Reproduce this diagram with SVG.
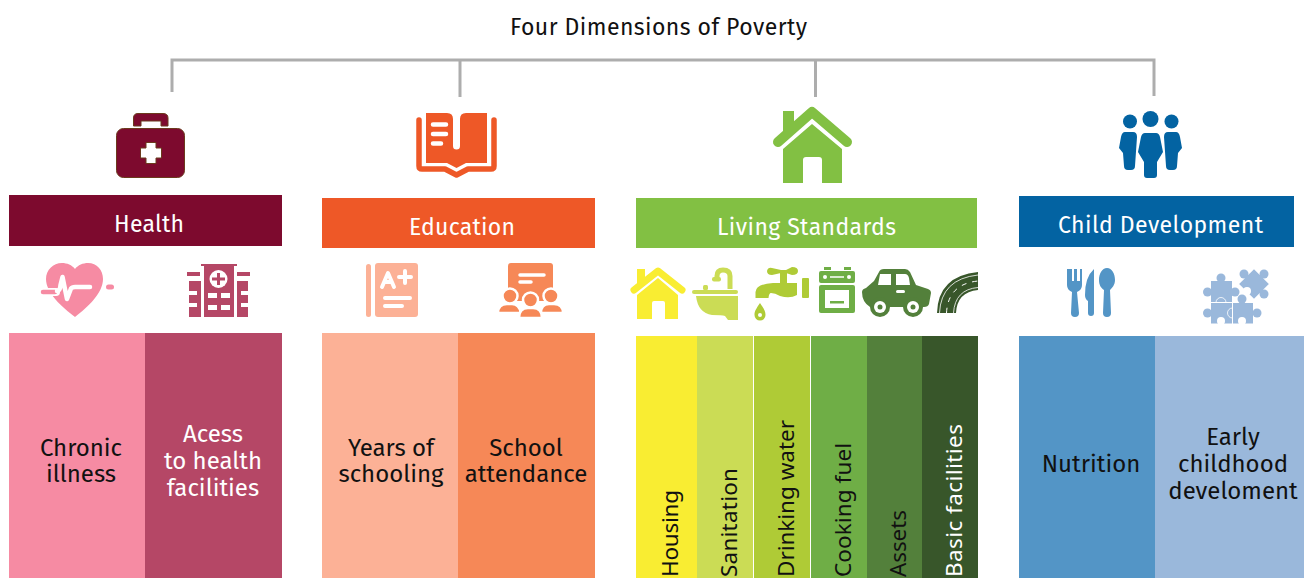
<svg xmlns="http://www.w3.org/2000/svg" width="1308" height="578" viewBox="0 0 1308 578">
<style>
text{font-family:"Fira Sans","Noto Sans","Open Sans",sans-serif;font-size:24px;fill:#111;text-anchor:middle}
.h{fill:#fff}
.g{font-size:23px}
.v{font-family:"Noto Sans","Open Sans",sans-serif;font-size:22.500px;text-anchor:start}
.conn{fill:none;stroke:#adadad;stroke-width:3}
</style>
<rect width="1308" height="578" fill="#fff"/>
<g id="connectors" class="conn">
<path d="M172 92V60H1154V96"/><path d="M460 60V97"/><path d="M815.500 60V97"/>
</g>
<g id="title"><text class="g" x="658.500" y="35" textLength="297">Four Dimensions of Poverty</text></g>

<g id="health">
<path d="M133.500 126V118Q133.500 113.500 138 113.500H163Q168 113.500 168 118V126H161V121H141V126Z" fill="#7d0a2e" stroke="#6b3a1c"/>
<rect x="116.500" y="128.500" width="68" height="49" rx="7" fill="#7d0a2e" stroke="#6b3a1c"/>
<path d="M146 142.500H156V148H161.500V158H156V163.500H146V158H140.500V148H146Z" fill="#fff" stroke="#6b3a1c"/>
<rect x="9" y="195" width="273" height="51" fill="#7d0a2e"/>
<text class="h g" x="149" y="232" textLength="70">Health</text>
</g>
<g id="chronic-illness">
<path d="M75 317C62 307 46 293 46 279C46 270 53 263 62 263C67 263 72 265 75 269C78 265 83 263 88 263C97 263 103 270 103 279C103 293 88 307 75 317Z" fill="#f68ba3"/>
<path d="M43 292H56" stroke="#fff" stroke-width="8" stroke-linecap="round"/>
<path d="M43 292H55" stroke="#f68ba3" stroke-width="4.500" stroke-linecap="round"/>
<path d="M57 291Q60 291 60.500 285L62.500 277L67 299L71 288.500Q72 287 75 287H90" fill="none" stroke="#fff" stroke-width="4.500" stroke-linecap="round" stroke-linejoin="round"/>
<rect x="106" y="284.500" width="8" height="5" rx="2.500" fill="#f68ba3"/>
<rect x="9" y="333" width="136" height="245" fill="#f68ba3"/>
<text x="81" y="456">Chronic</text><text x="81" y="482">illness</text>
</g>
<g id="health-access">
<path d="M201 264H237V266H234V317H204V266H201ZM187 272H200V276H187ZM237 272H250V276H237Z" fill="#b54766"/>
<path d="M189 281H201V317H189ZM237 281H248V317H237Z" fill="#b54766"/>
<path d="M189 291H197V295H189ZM189 303H197V307H189ZM241 291H248V295H241ZM241 303H248V307H241Z" fill="#fff"/>
<circle cx="218.500" cy="279" r="9" fill="#fff"/>
<path d="M217 273H220V277.500H225V280.500H220V285H217V280.500H212V277.500H217Z" fill="#b54766"/>
<path d="M208 293H217V298H208ZM221 293H230V298H221ZM208 305H217V310H208ZM221 305H230V310H221Z" fill="#fff"/>
<rect x="145" y="333" width="137" height="245" fill="#b54766"/>
<text class="h" x="213" y="442">Acess</text><text class="h" x="213" y="469">to health</text><text class="h" x="213" y="496">facilities</text>
</g>

<g id="education">
<path d="M426 113H447Q453 113 453 119V146A3.500 3.500 0 0 0 460 146V119Q460 113 466 113H487V163H466L456.500 168L447 163H426Z" fill="#ee5827"/>
<path d="M419 120V166Q419 169 422 169H445L456.500 175L468 169H491Q494 169 494 166V120" fill="none" stroke="#ee5827" stroke-width="5.500" stroke-linecap="round" stroke-linejoin="round"/>
<path d="M433 124.500H446M433 134H446M433 143.500H441" stroke="#fff" stroke-width="4.500" stroke-linecap="round"/>
<rect x="322" y="198" width="273" height="50" fill="#ee5827"/>
<text class="h g" x="462" y="235" textLength="106">Education</text>
</g>
<g id="years-of-schooling">
<rect x="366" y="264" width="5" height="53" rx="2.500" fill="#fcb196"/>
<rect x="375" y="263" width="43" height="54" rx="3" fill="#fcb196"/>
<path d="M382 287L388 273L394 287M384.500 282H391.500M399 277H411M405 271V283M385 298H410M385 306H402" fill="none" stroke="#fff" stroke-width="4" stroke-linecap="round" stroke-linejoin="round"/>
<rect x="322" y="333" width="136" height="245" fill="#fcb196"/>
<text x="391" y="456">Years of</text><text x="391" y="482">schooling</text>
</g>
<g id="school-attendance">
<rect x="508" y="263" width="45" height="38" rx="3" fill="#f68857"/>
<path d="M520 275H544M520 282H531" stroke="#fff" stroke-width="3.500" stroke-linecap="round"/>
<g fill="#f68857" stroke="#fff" stroke-width="2.500">
<circle cx="510" cy="296" r="7.500"/><circle cx="551" cy="296" r="7.500"/><circle cx="530.500" cy="300" r="7.500"/>
<path d="M498 313Q498 304 507 304H512Q519 304 521 313Z"/><path d="M541 313Q541 304 549 304H554Q563 304 563 313Z"/>
<path d="M519 318Q519 308 528 308H533Q542 308 542 318Z"/>
</g>
<rect x="458" y="333" width="137" height="245" fill="#f68857"/>
<text x="526" y="456">School</text><text x="526" y="482">attendance</text>
</g>

<g id="living-standards">
<rect x="783" y="111" width="11" height="20" fill="#82c043"/>
<path d="M778 142L812 112L847 142" fill="none" stroke="#82c043" stroke-width="10" stroke-linecap="round" stroke-linejoin="round"/>
<path d="M783 149L812 124L842 149V183H822V160Q822 157 819 157H806Q803 157 803 160V183H783Z" fill="#82c043"/>
<rect x="636" y="198" width="341" height="50" fill="#82c043"/>
<text class="h g" x="806.500" y="235" textLength="179">Living Standards</text>
</g>
<g id="housing">
<rect x="637" y="269" width="8" height="16" fill="#f9ed32"/>
<path d="M634 290L658 271L682 290" fill="none" stroke="#f9ed32" stroke-width="7" stroke-linecap="round" stroke-linejoin="round"/>
<path d="M637 295L658 278L678 295V319H665V303Q665 301 663 301H654Q652 301 652 303V319H637Z" fill="#f9ed32"/>
<rect x="636" y="336" width="61" height="242" fill="#f9ed32"/>
<text class="v" transform="translate(678 577) rotate(-90)" textLength="87">Housing</text>
</g>
<g id="sanitation">
<path d="M717 279V276Q717 270 723 270Q730 270 730 276V289" fill="none" stroke="#cbdc55" stroke-width="5"/>
<rect x="712" y="277" width="9" height="4.500" rx="2" fill="#cbdc55"/>
<rect x="692" y="290" width="46" height="4" rx="2" fill="#cbdc55"/><rect x="703" y="285" width="5" height="5" rx="1.500" fill="#cbdc55"/>
<path d="M696 296H738V320H728L725 316Q722 315 712 315Q698 313 696 296Z" fill="#cbdc55"/>
<rect x="697" y="336" width="56" height="242" fill="#cbdc55"/>
<text class="v" transform="translate(737 577) rotate(-90)" textLength="109">Sanitation</text>
</g>
<g id="drinking-water">
<path d="M755.500 298V292Q756 284 773 283H797V295Q790 299 780 296Q775 293 771 293Q769 293 768.500 298Z" fill="#afcb36"/>
<rect x="780" y="271" width="7" height="13" fill="#afcb36"/>
<path d="M767 271Q768 267 772 268L781 270H786L792 267Q798 267 798 271Q798 275 792 275L786 273H781L772 275Q767 275 767 271Z" fill="#afcb36"/>
<rect x="802" y="278" width="7" height="20" rx="1" fill="#afcb36"/>
<path d="M760 303C756 309 754.500 311 754.500 315A5.500 5.500 0 0 0 765.500 315C765.500 311 764 309 760 303Z" fill="#afcb36"/><circle cx="760" cy="315" r="2" fill="#fff"/>
<rect x="754" y="336" width="56" height="242" fill="#afcb36"/>
<text class="v" transform="translate(794 577) rotate(-90)" textLength="157">Drinking water</text>
</g>
<g id="cooking-fuel">
<path d="M824 267H831V270H824ZM844 267H851V270H844Z" fill="#6fae46"/>
<rect x="819" y="271" width="36" height="12" rx="2" fill="#6fae46"/><rect x="819" y="285" width="36" height="28" rx="2" fill="#6fae46"/>
<circle cx="825" cy="277" r="2" fill="#fff"/><circle cx="849" cy="277" r="2" fill="#fff"/><path d="M830 277H844" stroke="#fff" stroke-width="1.500"/>
<rect x="825" y="290" width="24" height="18" fill="#fff"/><rect x="830" y="301" width="14" height="2.500" fill="#6fae46"/>
<rect x="811" y="336" width="56" height="242" fill="#6fae46"/>
<text class="v" transform="translate(851 577) rotate(-90)" textLength="134">Cooking fuel</text>
</g>
<g id="assets">
<path d="M862 292Q862 289 866 288L874 281L879 272Q880 269 884 269H905Q908 269 910 272L916 285L928 289Q931 290 931 293L929 304Q928 307 924 307H870Q862 302 862 292Z" fill="#53803b"/>
<circle cx="880" cy="307" r="10" fill="#53803b"/><circle cx="913" cy="307" r="10" fill="#53803b"/>
<circle cx="880" cy="307" r="6" fill="#fff"/><circle cx="913" cy="307" r="6" fill="#fff"/>
<circle cx="880" cy="307" r="2.500" fill="#53803b"/><circle cx="913" cy="307" r="2.500" fill="#53803b"/>
<path d="M880 274H891V285H878ZM896 274H905Q908 274 909 278L910 285H896Z" fill="#fff"/><rect x="896" y="290" width="9" height="3" rx="1.500" fill="#fff"/>
<rect x="867" y="336" width="55" height="242" fill="#53803b"/>
<text class="v" transform="translate(906 577) rotate(-90)" textLength="67">Assets</text>
</g>
<g id="basic-facilities">
<path d="M937 313Q938 276 978 272V290Q957 292 956 313Z" fill="#38562a"/>
<path d="M939.500 313Q941 279 978 275M953.500 313Q955 289.500 978 287.500" fill="none" stroke="#fff" stroke-width=".8"/>
<path d="M946.500 313Q948 284 978 281" fill="none" stroke="#fff" stroke-width="1" stroke-dasharray="5 6"/>
<rect x="922" y="336" width="56" height="242" fill="#38562a"/>
<text class="v h" transform="translate(962 577) rotate(-90)" textLength="153">Basic facilities</text>
</g>
<path d="M753.500 336V578M810.500 336V578" stroke="#fff"/>

<g id="child-development">
<circle cx="1130" cy="121.500" r="7" fill="#0363a2"/><circle cx="1150.500" cy="119" r="8" fill="#0363a2"/><circle cx="1171.500" cy="121.500" r="7" fill="#0363a2"/>
<path d="M1125 132H1133Q1137 132 1137 137L1135 166Q1135 170 1131 170H1128Q1124 170 1124 166L1123 153L1119 148L1121 137Q1122 132 1125 132Z" fill="#0363a2"/>
<path d="M1176 132H1168Q1164 132 1164 137L1166 166Q1166 170 1170 170H1173Q1177 170 1177 166L1178 153L1182 148L1180 137Q1179 132 1176 132Z" fill="#0363a2"/>
<path d="M1145 133H1156Q1159 133 1160 137L1163 152L1157 162V175Q1157 178 1154 178H1147Q1144 178 1144 175V162L1138 152L1141 137Q1142 133 1145 133Z" fill="#0363a2"/>
<rect x="1019" y="196" width="275" height="51" fill="#0363a2"/>
<text class="h g" x="1160.500" y="233" textLength="205">Child Development</text>
</g>
<g id="nutrition">
<path d="M1067 269V285Q1067 290 1072 292L1071 313A3 3 0 0 0 1079 313L1077 292Q1082 290 1082 285V269H1080V281H1077V269H1074V281H1072V269Z" fill="#5395c6"/>
<path d="M1094 269V313A3 3 0 0 1 1088 313V301Q1085 299 1085 295Q1085 277 1094 269Z" fill="#5395c6"/>
<path d="M1107 268C1112 268 1115 274 1115 280C1115 285 1112 288 1110 290L1111 313A3 3 0 0 1 1103 313L1104 290C1101 288 1099 285 1099 280C1099 274 1102 268 1107 268Z" fill="#5395c6"/>
<rect x="1019" y="336" width="136" height="242" fill="#5395c6"/>
<text x="1091" y="472">Nutrition</text>
</g>
<g id="early-childhood" fill="#9ab8db">
<rect x="1211" y="281" width="21" height="21"/><circle cx="1221" cy="278" r="4.500"/><circle cx="1207.500" cy="292" r="4.500"/><circle cx="1235" cy="292" r="4.500"/>
<rect x="1211" y="303" width="21" height="20.500"/><circle cx="1207.500" cy="313" r="4.500"/><circle cx="1221" cy="321" r="4" fill="#fff"/>
<rect x="1233" y="303" width="20" height="20.500"/><circle cx="1242" cy="299" r="4.500"/><circle cx="1257" cy="313" r="4.500"/><circle cx="1242" cy="321" r="4" fill="#fff"/>
<path d="M1216 302.500A5 5 0 0 1 1226 302.500M1232.500 308A5 5 0 0 0 1232.500 318" fill="none" stroke="#fff" stroke-width=".8"/>
<rect x="1243.500" y="273.500" width="21" height="21" transform="rotate(45 1254 284)"/>
<circle cx="1244" cy="274" r="4.500"/><circle cx="1264" cy="274" r="4.500"/><circle cx="1264" cy="294" r="4.500"/><circle cx="1247" cy="291" r="4" fill="#fff"/>
<rect x="1155" y="336" width="149" height="242" fill="#9ab8db"/>
<text x="1233" y="445">Early</text><text x="1233" y="472">childhood</text><text x="1233" y="499">develoment</text>
</g>
</svg>
